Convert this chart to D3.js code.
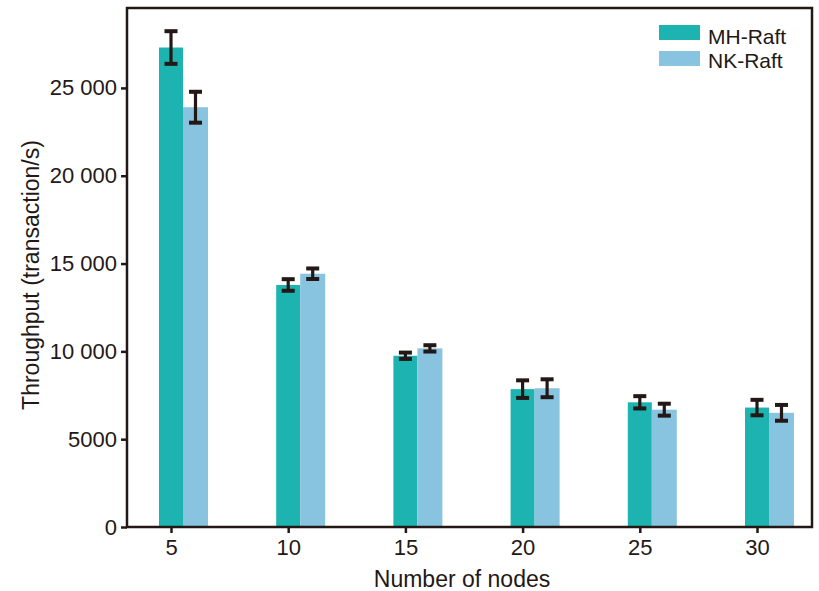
<!DOCTYPE html>
<html><head><meta charset="utf-8">
<script src="https://cdn.jsdelivr.net/npm/d3@7"></script>
<style>body{margin:0;background:#fff}svg{display:block;font-family:"Liberation Sans",Arial,sans-serif}</style>
</head><body><svg id="c" width="819" height="591"></svg>
<script>
const categories = ["5","10","15","20","25","30"];
const seriesNames = ["MH-Raft","NK-Raft"];
const mhValues = [27300,13780,9750,7850,7100,6800];
const mhErrors = [930,330,180,500,350,440];
const nkValues = [23900,14420,10170,7900,6680,6500];
const nkErrors = [880,300,180,510,340,450];
const yTicks = [0,5000,10000,15000,20000,25000];
const colors = ["#1cb3b0","#88c4df"];
const ink = "#231815";

const svg = d3.select("#c");
const L=127, R=812, T=8, B=527;
const x = d3.scalePoint().domain(categories).range([171,757]);
const y = d3.scaleLinear().domain([0,29550]).range([B,T]);

const fmt = v => v>=10000 ? d3.format(",")(v).replace(/,/g," ") : String(v);

const series = [
  {name:seriesNames[0], vals:mhValues, errs:mhErrors, x0:-12, w:24, color:colors[0]},
  {name:seriesNames[1], vals:nkValues, errs:nkErrors, x0:12, w:25, color:colors[1]}
];

series.forEach(s=>{
  svg.append("g").selectAll("rect").data(categories).join("rect")
    .attr("x",c=>x(c)+s.x0).attr("width",s.w)
    .attr("y",(c,i)=>y(s.vals[i])).attr("height",(c,i)=>B-y(s.vals[i]))
    .attr("fill",s.color);
});
series.forEach(s=>{
  const g = svg.append("g").attr("stroke",ink).attr("fill","none");
  categories.forEach((c,i)=>{
    const cx = x(c)+s.x0+s.w/2;
    const y1 = y(s.vals[i]+s.errs[i]), y2 = y(s.vals[i]-s.errs[i]);
    g.append("line").attr("x1",cx).attr("x2",cx).attr("y1",y1).attr("y2",y2).attr("stroke-width",3.2);
    g.append("line").attr("x1",cx-6.5).attr("x2",cx+6.5).attr("y1",y1).attr("y2",y1).attr("stroke-width",4);
    g.append("line").attr("x1",cx-6.5).attr("x2",cx+6.5).attr("y1",y2).attr("y2",y2).attr("stroke-width",4);
  });
});

// frame
svg.append("rect").attr("x",L).attr("y",T).attr("width",R-L).attr("height",B-T)
  .attr("fill","none").attr("stroke",ink).attr("stroke-width",2.5);

const tickFont = "22px";
// y axis
const ya = svg.append("g").attr("transform",`translate(${L},0)`)
  .call(d3.axisLeft(y).tickValues(yTicks).tickFormat(fmt).tickSize(6).tickPadding(4));
ya.select(".domain").remove();
ya.selectAll(".tick line").attr("stroke",ink).attr("stroke-width",2.5);
ya.selectAll(".tick text").attr("fill",ink).style("font-size",tickFont).style("font-family","'Liberation Sans',Arial,sans-serif");

// x axis
const xa = svg.append("g").attr("transform",`translate(0,${B})`)
  .call(d3.axisBottom(x).tickSize(6).tickPadding(6));
xa.select(".domain").remove();
xa.selectAll(".tick line").attr("stroke",ink).attr("stroke-width",2.5);
xa.selectAll(".tick text").attr("fill",ink).style("font-size",tickFont).style("font-family","'Liberation Sans',Arial,sans-serif");

svg.append("text").attr("x",462).attr("y",587).attr("text-anchor","middle")
  .attr("fill",ink).style("font-size","23px").text("Number of nodes");
svg.append("text").attr("transform","translate(39,275) rotate(-90)").attr("text-anchor","middle")
  .attr("fill",ink).style("font-size","23px").text("Throughput (transaction/s)");

// legend
const lg = svg.append("g");
series.forEach((s,i)=>{
  lg.append("rect").attr("x",659).attr("y",25+i*26).attr("width",41).attr("height",15).attr("fill",s.color);
  lg.append("text").attr("x",708).attr("y",43.5+i*24).attr("fill",ink).style("font-size","21px").text(s.name);
});
</script></body></html>
